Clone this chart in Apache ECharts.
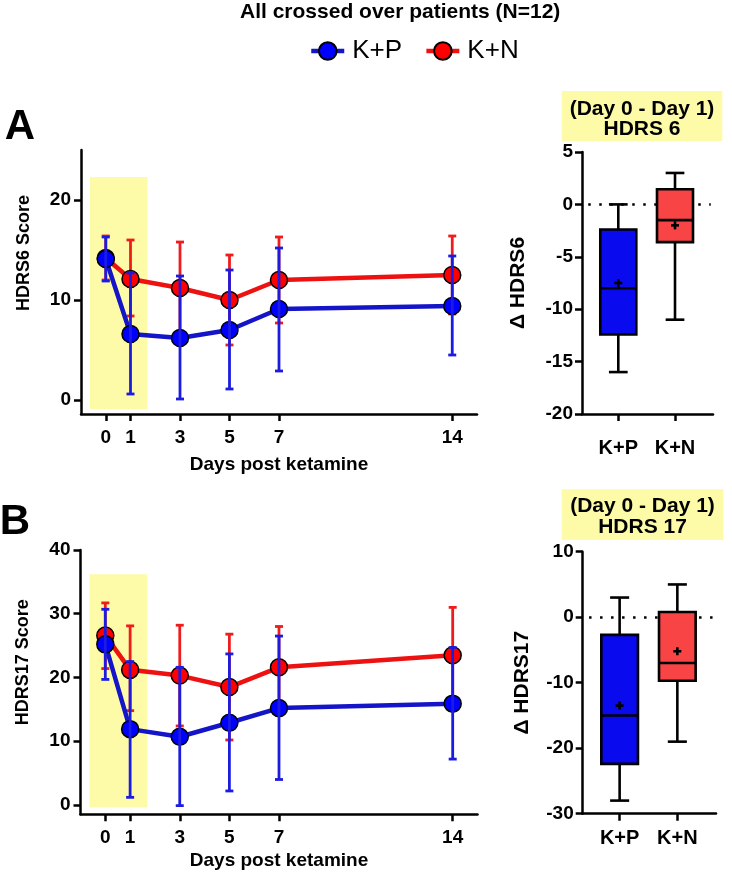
<!DOCTYPE html>
<html><head><meta charset="utf-8">
<script src="https://cdn.jsdelivr.net/npm/echarts@6/dist/echarts.min.js"></script>
<style>html,body{margin:0;padding:0;background:#fff}#c{width:732px;height:874px}</style>
</head><body><div id="c"></div>
<script>
// ---------- data ----------
const days = [0, 1, 3, 5, 7, 14];
const seriesNames = ['K+P', 'K+N'];

const hdrs6KP    = [14.1, 6.6, 6.2, 7.0, 9.1, 9.4];
const hdrs6KPLo  = [11.9, 0.6, 0.1, 1.1, 2.9, 4.5];
const hdrs6KPHi  = [16.3, 12.7, 12.4, 13.0, 15.2, 14.4];
const hdrs6KN    = [14.2, 12.1, 11.2, 10.0, 12.0, 12.5];
const hdrs6KNLo  = [12.0, 8.4, 6.6, 5.5, 7.7, 8.6];
const hdrs6KNHi  = [16.4, 16.0, 15.8, 14.5, 16.3, 16.4];

const hdrs17KP   = [25.2, 11.9, 10.7, 12.9, 15.2, 15.9];
const hdrs17KPLo = [19.7, 1.2, -0.1, 2.2, 4.0, 7.2];
const hdrs17KPHi = [30.7, 22.5, 21.6, 23.7, 26.5, 24.7];
const hdrs17KN   = [26.6, 21.2, 20.3, 18.5, 21.6, 23.5];
const hdrs17KNLo = [21.4, 14.8, 12.4, 10.2, 15.2, 16.0];
const hdrs17KNHi = [31.7, 28.1, 28.2, 26.8, 28.0, 31.0];

const boxCats = ['K+P', 'K+N'];
// [min, Q1, median, Q3, max, mean]
const delta6KP  = [-16, -12.4, -8.0, -2.4, 0, -7.5];
const delta6KN  = [-11, -3.6, -1.5, 1.45, 3, -2.0];
const delta17KP = [-28, -22.4, -15.0, -2.7, 3, -13.5];
const delta17KN = [-19, -9.7, -7.0, 0.8, 5, -5.2];

const line6Ticks = [0, 10, 20];
const line17Ticks = [0, 10, 20, 30, 40];
const bandDays = [-0.64, 1.69];

// ---------- styles ----------
const FF = '"Liberation Sans", Arial, Helvetica, sans-serif';
const BLUE = '#0000ff', BLUE_LINE = '#1414c8', BLUE_ERR = '#1c1ce0';
const RED = '#ff0000', RED_LINE = '#ee1111', RED_ERR = '#ee1c1c';
const BOX_COLORS = ['#0a0aef', '#f84444'];
const YELLOW = '#fdfba8';
const BOX_W = 0.635, CAP_W = 0.33;

function pts(xs, ys) { return xs.map((x, i) => [x, ys[i]]); }
function errPts(xs, lo, hi) { return xs.map((x, i) => [x, lo[i], hi[i]]); }

function errRender(color) {
  return function (params, api) {
    const x = api.value(0);
    const lo = api.coord([x, api.value(1)]);
    const hi = api.coord([x, api.value(2)]);
    const cw = 4;
    const st = { stroke: color, lineWidth: 2.8 };
    return { type: 'group', children: [
      { type: 'line', shape: { x1: lo[0], y1: lo[1], x2: hi[0], y2: hi[1] }, style: st },
      { type: 'line', shape: { x1: hi[0] - cw, y1: hi[1], x2: hi[0] + cw, y2: hi[1] }, style: st },
      { type: 'line', shape: { x1: lo[0] - cw, y1: lo[1], x2: lo[0] + cw, y2: lo[1] }, style: st }
    ]};
  };
}

function boxRender(params, api) {
  const x = api.value(0);
  const P = v => api.coord([x, v]);
  const pMin = P(api.value(1)), pQ1 = P(api.value(2)), pMed = P(api.value(3)),
        pQ3 = P(api.value(4)), pMax = P(api.value(5)), pMean = P(api.value(6));
  const hw = api.size([BOX_W, 0])[0] / 2;
  const cw = api.size([CAP_W, 0])[0] / 2;
  const cx = pMed[0];
  const st = { stroke: '#000', lineWidth: 2.6 };
  const fill = BOX_COLORS[params.dataIndex];
  return { type: 'group', children: [
    { type: 'line', shape: { x1: cx, y1: pMax[1], x2: cx, y2: pQ3[1] }, style: st },
    { type: 'line', shape: { x1: cx, y1: pQ1[1], x2: cx, y2: pMin[1] }, style: st },
    { type: 'line', shape: { x1: cx - cw, y1: pMax[1], x2: cx + cw, y2: pMax[1] }, style: st },
    { type: 'line', shape: { x1: cx - cw, y1: pMin[1], x2: cx + cw, y2: pMin[1] }, style: st },
    { type: 'rect', shape: { x: cx - hw, y: pQ3[1], width: 2 * hw, height: pQ1[1] - pQ3[1] },
      style: { fill: fill, stroke: '#000', lineWidth: 2.6 } },
    { type: 'line', shape: { x1: cx - hw, y1: pMed[1], x2: cx + hw, y2: pMed[1] }, style: st },
    { type: 'line', shape: { x1: cx - 4, y1: pMean[1], x2: cx + 4, y2: pMean[1] }, style: st },
    { type: 'line', shape: { x1: cx, y1: pMean[1] - 4, x2: cx, y2: pMean[1] + 4 }, style: st }
  ]};
}

const axisLine = { show: true, onZero: false, lineStyle: { color: '#000', width: 2.5 } };
const tickStyle = { lineStyle: { color: '#000', width: 2.5 } };
const labelFont = { color: '#000', fontFamily: FF, fontWeight: 'bold', fontSize: 19 };
const nameFont = { color: '#000', fontFamily: FF, fontWeight: 'bold', fontSize: 18 };

function lineX(grid, gap) {
  return {
    gridIndex: grid, type: 'value', min: -1, max: 15,
    name: 'Days post ketamine', nameLocation: 'middle', nameGap: gap, nameMoveOverlap: false,
    nameTextStyle: Object.assign({}, nameFont, { fontSize: 19 }),
    axisLine: axisLine, splitLine: { show: false },
    axisTick: Object.assign({ show: true, length: 7, customValues: days }, tickStyle),
    axisLabel: Object.assign({ margin: 14, customValues: days }, labelFont)
  };
}
function lineY(grid, min, max, ticks, name, pad) {
  return {
    gridIndex: grid, type: 'value', min: min, max: max,
    name: name, nameLocation: 'middle', nameGap: 48, nameMoveOverlap: false,
    nameTextStyle: Object.assign({}, nameFont, { padding: [0, 0, 0, pad] }),
    axisLine: axisLine, splitLine: { show: false },
    axisTick: Object.assign({ show: true, length: 7, customValues: ticks }, tickStyle),
    axisLabel: Object.assign({ margin: 10, customValues: ticks }, labelFont)
  };
}
function boxX(grid, margin) {
  return {
    gridIndex: grid, type: 'value', min: 0.36, max: 2.67,
    axisLine: axisLine, splitLine: { show: false },
    axisTick: Object.assign({ show: true, length: 7, customValues: [1, 2] }, tickStyle),
    axisLabel: Object.assign({ margin: margin, customValues: [1, 2],
      formatter: v => boxCats[Math.round(v) - 1] }, labelFont, { fontSize: 20 })
  };
}
function boxY(grid, min, max, interval, name, gap) {
  return {
    gridIndex: grid, type: 'value', min: min, max: max, interval: interval,
    name: name, nameLocation: 'middle', nameGap: gap, nameMoveOverlap: false,
    nameTextStyle: Object.assign({}, nameFont, { fontSize: 21 }),
    axisLine: axisLine, splitLine: { show: false },
    axisTick: Object.assign({ show: true, length: 7 }, tickStyle),
    axisLabel: Object.assign({ margin: 9 }, labelFont, { fontSize: 19 })
  };
}

function lineSeries(name, xi, data, lineColor, dotColor, z, band) {
  const s = {
    type: 'line', name: name, xAxisIndex: xi, yAxisIndex: xi, data: data, z: z,
    symbol: 'circle', symbolSize: 17, showSymbol: true,
    lineStyle: { color: lineColor, width: 4.5 },
    itemStyle: { color: dotColor, borderColor: '#000', borderWidth: 1.5 },
    emphasis: { disabled: true }
  };
  if (band) {
    s.markArea = { silent: true, z: 1, itemStyle: { color: YELLOW },
      data: [[{ coord: [bandDays[0], band[1]] }, { coord: [bandDays[1], band[0]] }]] };
  }
  return s;
}
function errSeries(name, xi, data, color, z) {
  return { type: 'custom', name: name, xAxisIndex: xi, yAxisIndex: xi, z: z,
    data: data, encode: { x: 0, y: [1, 2] }, renderItem: errRender(color), clip: false, silent: true };
}
function boxSeries(name, xi, kp, kn) {
  return { type: 'custom', name: name, xAxisIndex: xi, yAxisIndex: xi, z: 6,
    data: [[1].concat(kp), [2].concat(kn)], encode: { x: 0, y: [1, 2, 3, 4, 5] },
    renderItem: boxRender, clip: false, silent: true,
    markLine: { silent: true, z: 1, symbol: 'none', label: { show: false },
      lineStyle: { color: '#000', width: 2.5, type: [2.5, 8.5] },
      data: [[{ coord: [0.47, 0] }, { coord: [2.63, 0] }]] } };
}

const chart = echarts.init(document.getElementById('c'), null, { renderer: 'canvas' });
chart.setOption({
  animation: false,
  backgroundColor: '#fff',
  title: { text: 'All crossed over patients (N=12)', left: 240, top: 2, padding: 0,
    textStyle: { fontFamily: FF, fontWeight: 'bold', fontSize: 21, color: '#000' } },
  legend: { data: seriesNames, left: 309, top: 38, padding: 0, itemWidth: 33, itemHeight: 22, itemGap: 22,
    selectedMode: false, lineStyle: { width: 4.5 },
    textStyle: { fontFamily: FF, fontSize: 26, color: '#000', padding: [0, 0, 0, 3] } },
  grid: [
    { left: 81, top: 150, width: 396, height: 264, outerBoundsMode: 'none' },
    { left: 582, top: 152, width: 131, height: 262, outerBoundsMode: 'none' },
    { left: 80.5, top: 550, width: 397, height: 264.3, outerBoundsMode: 'none' },
    { left: 582.7, top: 551.7, width: 133.3, height: 262, outerBoundsMode: 'none' }
  ],
  xAxis: [ lineX(0, 41), boxX(1, 24), lineX(2, 37), boxX(3, 15) ],
  yAxis: [
    lineY(0, -1.4, 25, line6Ticks, 'HDRS6 Score', 58),
    boxY(1, -20, 5, 5, 'Δ HDRS6', 53),
    lineY(2, -1.46, 40, line17Ticks, 'HDRS17 Score', 40),
    boxY(3, -30, 10, 10, 'Δ HDRS17', 50)
  ],
  graphic: [
    { type: 'text', x: 20, y: 127, style: { text: 'A', font: 'bold 42px ' + FF, fill: '#000',
      align: 'center', verticalAlign: 'middle', textAlign: 'center', textVerticalAlign: 'middle' } },
    { type: 'text', x: 15, y: 522, style: { text: 'B', font: 'bold 42px ' + FF, fill: '#000',
      align: 'center', verticalAlign: 'middle', textAlign: 'center', textVerticalAlign: 'middle' } },
    { type: 'rect', shape: { x: 561.7, y: 91, width: 160.6, height: 50 }, style: { fill: YELLOW } },
    { type: 'text', x: 642, y: 119, style: { text: '(Day 0 - Day 1)\nHDRS 6', font: 'bold 21px ' + FF,
      fill: '#000', lineHeight: 20, align: 'center', verticalAlign: 'middle', textAlign: 'center', textVerticalAlign: 'middle' } },
    { type: 'rect', shape: { x: 561.7, y: 489.3, width: 161.6, height: 50.7 }, style: { fill: YELLOW } },
    { type: 'text', x: 642.5, y: 517, style: { text: '(Day 0 - Day 1)\nHDRS 17', font: 'bold 21px ' + FF,
      fill: '#000', lineHeight: 21, align: 'center', verticalAlign: 'middle', textAlign: 'center', textVerticalAlign: 'middle' } }
  ],
  series: [
    errSeries('K+N error', 0, errPts(days, hdrs6KNLo, hdrs6KNHi), RED_ERR, 2),
    lineSeries('K+N', 0, pts(days, hdrs6KN), RED_LINE, RED, 3, [-0.9, 22.3]),
    lineSeries('K+P', 0, pts(days, hdrs6KP), BLUE_LINE, BLUE, 4),
    errSeries('K+P error', 0, errPts(days, hdrs6KPLo, hdrs6KPHi), BLUE_ERR, 5),

    errSeries('K+N error', 2, errPts(days, hdrs17KNLo, hdrs17KNHi), RED_ERR, 2),
    lineSeries('K+N', 2, pts(days, hdrs17KN), RED_LINE, RED, 3, [-0.4, 36.2]),
    lineSeries('K+P', 2, pts(days, hdrs17KP), BLUE_LINE, BLUE, 4),
    errSeries('K+P error', 2, errPts(days, hdrs17KPLo, hdrs17KPHi), BLUE_ERR, 5),

    boxSeries('Δ HDRS6', 1, delta6KP, delta6KN),
    boxSeries('Δ HDRS17', 3, delta17KP, delta17KN)
  ]
});
</script>
</body></html>
